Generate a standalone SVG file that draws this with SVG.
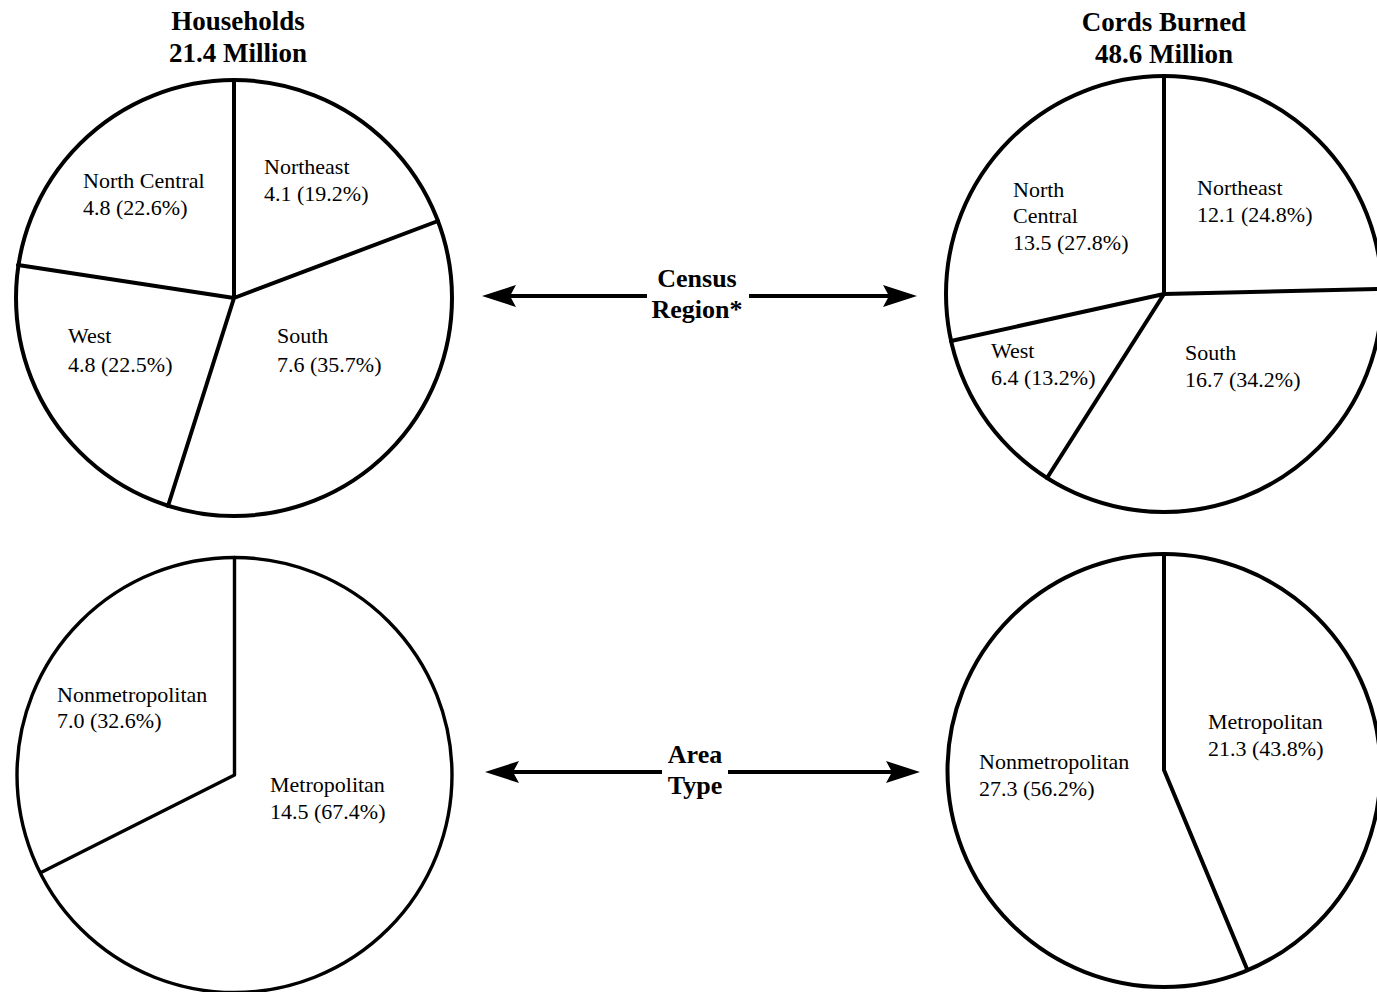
<svg xmlns="http://www.w3.org/2000/svg" width="1377" height="992" viewBox="0 0 1377 992">
<style>
.pie{fill:#fff;stroke:#000;stroke-width:4}
.rad{fill:none;stroke:#000;stroke-width:4;stroke-linecap:round;stroke-linejoin:round}
.lbl{font-family:"Liberation Serif","Times New Roman",serif;font-size:22px;fill:#000}
.ttl{font-family:"Liberation Serif","Times New Roman",serif;font-size:27px;font-weight:bold;fill:#000;text-anchor:middle}
.cap{font-family:"Liberation Serif","Times New Roman",serif;font-size:26px;font-weight:bold;fill:#000;text-anchor:middle}
.arr{stroke:#000;stroke-width:4;fill:none}
</style>
<defs>
<marker id="ah" viewBox="0 0 34 22" refX="6" refY="11" markerWidth="34" markerHeight="22" markerUnits="userSpaceOnUse" orient="auto-start-reverse">
<path d="M0,0 L34,11 L0,22 L6,11 Z" fill="#000"/>
</marker>
</defs>
<rect width="1377" height="992" fill="#fff"/>

<g id="title-households">
<text class="ttl" x="238" y="30">Households</text>
<text class="ttl" x="238" y="62">21.4 Million</text>
</g>
<g id="title-cords">
<text class="ttl" x="1164" y="31">Cords Burned</text>
<text class="ttl" x="1164" y="63">48.6 Million</text>
</g>

<g id="pie-households-region">
<circle class="pie" cx="234" cy="298" r="218"/>
<path class="rad" d="M234,80 L234,298 L438,221 M234,298 L18,265 M234,298 L168,506"/>
<text class="lbl" x="83" y="188">North Central</text>
<text class="lbl" x="83" y="215">4.8 (22.6%)</text>
<text class="lbl" x="264" y="174">Northeast</text>
<text class="lbl" x="264" y="201">4.1 (19.2%)</text>
<text class="lbl" x="68" y="343">West</text>
<text class="lbl" x="68" y="372">4.8 (22.5%)</text>
<text class="lbl" x="277" y="343">South</text>
<text class="lbl" x="277" y="372">7.6 (35.7%)</text>
</g>

<g id="pie-cords-region">
<circle class="pie" cx="1164" cy="294" r="218"/>
<path class="rad" d="M1164,76 L1164,294 L1382,289 M1164,294 L951,341 M1164,294 L1047,478"/>
<text class="lbl" x="1013" y="197">North</text>
<text class="lbl" x="1013" y="223">Central</text>
<text class="lbl" x="1013" y="250">13.5 (27.8%)</text>
<text class="lbl" x="1197" y="195">Northeast</text>
<text class="lbl" x="1197" y="222">12.1 (24.8%)</text>
<text class="lbl" x="991" y="358">West</text>
<text class="lbl" x="991" y="385">6.4 (13.2%)</text>
<text class="lbl" x="1185" y="360">South</text>
<text class="lbl" x="1185" y="387">16.7 (34.2%)</text>
</g>

<g id="pie-households-area">
<circle class="pie" cx="234.5" cy="775" r="217.5" style="stroke-width:3.4"/>
<path class="rad" style="stroke-width:3.4" d="M234.5,557.5 L234.5,775 L42,872"/>
<text class="lbl" x="57" y="702">Nonmetropolitan</text>
<text class="lbl" x="57" y="728">7.0 (32.6%)</text>
<text class="lbl" x="270" y="792">Metropolitan</text>
<text class="lbl" x="270" y="819">14.5 (67.4%)</text>
</g>

<g id="pie-cords-area">
<circle class="pie" cx="1164" cy="770.5" r="216.5"/>
<path class="rad" d="M1164,554 L1164,770 L1247,969"/>
<text class="lbl" x="979" y="769">Nonmetropolitan</text>
<text class="lbl" x="979" y="796">27.3 (56.2%)</text>
<text class="lbl" x="1208" y="729">Metropolitan</text>
<text class="lbl" x="1208" y="756">21.3 (43.8%)</text>
</g>

<g id="connectors">
<line class="arr" x1="510" y1="296" x2="647" y2="296" marker-start="url(#ah)"/>
<line class="arr" x1="749" y1="296" x2="889" y2="296" marker-end="url(#ah)"/>
<line class="arr" x1="513" y1="772" x2="662" y2="772" marker-start="url(#ah)"/>
<line class="arr" x1="728" y1="772" x2="892" y2="772" marker-end="url(#ah)"/>
</g>

<g id="label-census-region">
<text class="cap" x="697" y="287">Census</text>
<text class="cap" x="697" y="318">Region*</text>
</g>
<g id="label-area-type">
<text class="cap" x="695" y="763">Area</text>
<text class="cap" x="695" y="794">Type</text>
</g>
</svg>
